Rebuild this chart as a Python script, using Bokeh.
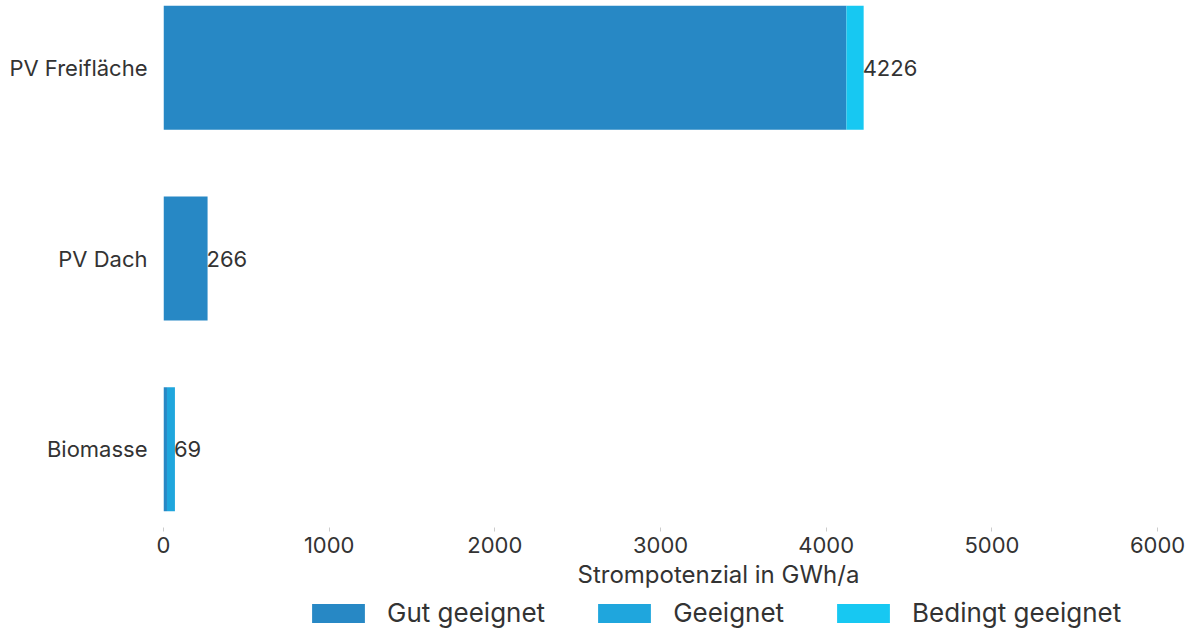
from bokeh.plotting import figure
from bokeh.layouts import column
from bokeh.models import ColumnDataSource, Range1d, FixedTicker, Legend, LegendItem, Title, LabelSet
from bokeh.core.properties import value
from bokeh.embed import file_html
from bokeh.resources import INLINE

categories = ["Biomasse", "PV Dach", "PV Freifläche"]
gut = [21, 266, 4122]
geeignet = [48, 0, 0]
bedingt = [0, 0, 104]
totals = [69, 266, 4226]
series = ["Gut geeignet", "Geeignet", "Bedingt geeignet"]
colors = ["#2788c5", "#1fa6dd", "#17c8f2"]
x_ticks = [0, 1000, 2000, 3000, 4000, 5000, 6000]

FONT = "Inter"
TXT = "#333333"

ypos = list(range(len(categories)))
src = ColumnDataSource(dict(y=ypos, gut=gut, geeignet=geeignet, bedingt=bedingt,
                            total=totals, lbl=[str(t) for t in totals]))

p = figure(frame_width=1006, frame_height=527, output_backend="svg", toolbar_location=None,
           x_range=Range1d(0, 6072), y_range=Range1d(-0.41, 2.353),
           min_border_left=163, min_border_right=20, min_border_top=0, min_border_bottom=68)
p.outline_line_color = None
p.grid.visible = False

rs = p.hbar_stack(["gut", "geeignet", "bedingt"], y="y", height=0.65, color=colors,
                  line_color=None, source=src)

labels = LabelSet(x="total", y="y", text="lbl", source=src, x_offset=-1,
                  text_align="left", text_baseline="middle", text_font=value(FONT),
                  text_font_size="22px", text_color=TXT)
p.add_layout(labels)

xa = p.xaxis[0]
xa.ticker = FixedTicker(ticks=x_ticks)
xa.axis_line_color = None
xa.minor_tick_line_color = None
xa.major_tick_line_color = "#cccccc"
xa.major_tick_out = 4
xa.major_tick_in = 0
xa.major_label_text_font = FONT
xa.major_label_text_font_size = "22px"
xa.major_label_text_color = TXT
xa.major_label_standoff = 5

ya = p.yaxis[0]
ya.ticker = FixedTicker(ticks=ypos)
ya.major_label_overrides = {i: c for i, c in zip(ypos, categories)}
ya.axis_line_color = None
ya.major_tick_line_color = None
ya.minor_tick_line_color = None
ya.major_label_text_font = FONT
ya.major_label_text_font_size = "22px"
ya.major_label_text_color = TXT
ya.major_label_standoff = 10

t = Title(text="Strompotenzial in GWh/a", align="left", offset=414,
          text_font=FONT, text_font_size="24px", text_font_style="normal",
          text_color=TXT, standoff=4)
p.add_layout(t, "below")

# legend strip (frame aligned with main plot's frame)
p2 = figure(width=1189, height=35, output_backend="svg", toolbar_location=None,
            x_range=Range1d(0, 1), y_range=Range1d(0, 1),
            x_axis_location=None, y_axis_location=None,
            min_border_left=0, min_border_right=0, min_border_top=0, min_border_bottom=0)
p2.outline_line_color = None
p2.grid.visible = False
dummies = []
for s, c in zip(series, colors):
    r = p2.hbar(y=[-10], left=[-10], right=[-9], height=0.5, color=c, line_color=None)
    dummies.append(r)

legend = Legend(items=[LegendItem(label=s, renderers=[r]) for s, r in zip(series, dummies)],
                orientation="horizontal", location=(142, 2),
                glyph_width=66, glyph_height=24, label_standoff=16, spacing=46,
                label_text_font=FONT, label_text_font_size="26px", label_text_color=TXT,
                border_line_color=None, background_fill_alpha=0, padding=0, margin=0)
p2.add_layout(legend)

layout = column(p, p2, spacing=0)
open("out.html", "w").write(file_html(layout, INLINE))
